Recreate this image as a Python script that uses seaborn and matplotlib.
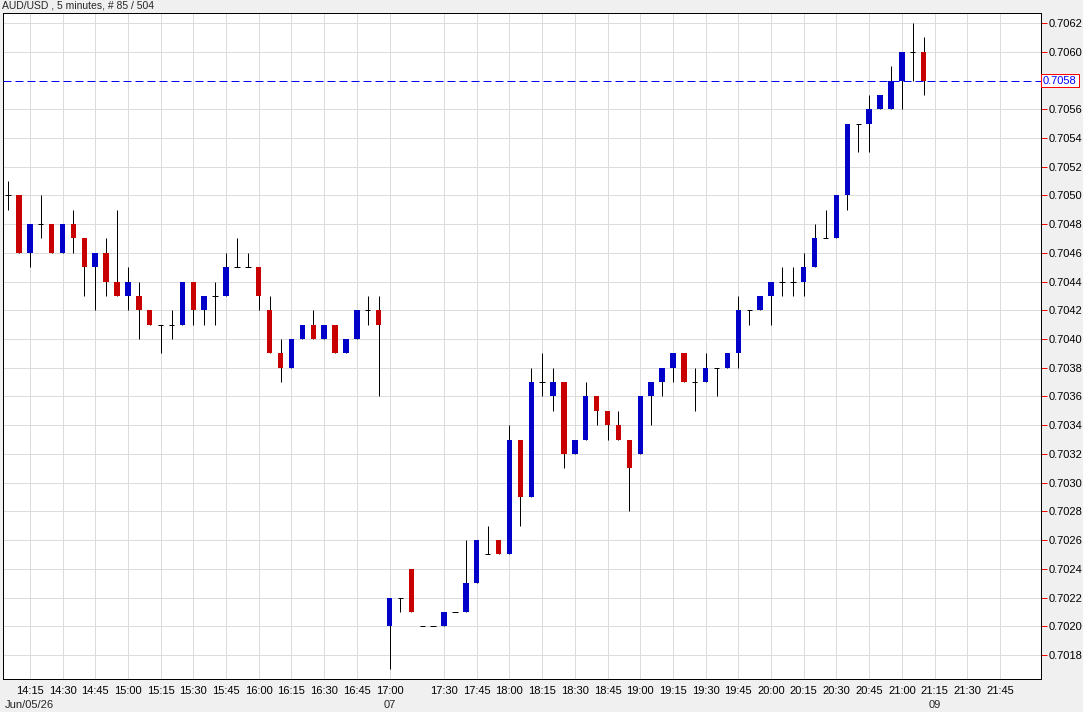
import matplotlib
matplotlib.use('Agg')
import matplotlib.pyplot as plt
import matplotlib.transforms as mtransforms
import seaborn as sns
import numpy as np

# AUD/USD 5 minute candles
opens = [0.7050, 0.7050, 0.7046, 0.7048, 0.7048, 0.7046, 0.7048, 0.7047, 0.7045, 0.7046,
         0.7044, 0.7043, 0.7043, 0.7042, 0.7041, 0.7041, 0.7041, 0.7044, 0.7042, 0.7043,
         0.7043, 0.7045, 0.7045, 0.7045, 0.7042, 0.7039, 0.7038, 0.7040, 0.7041, 0.7040,
         0.7041, 0.7039, 0.7040, 0.7042, 0.7042, 0.7020, 0.7022, 0.7024, 0.7020, 0.7020,
         0.7020, 0.7021, 0.7021, 0.7023, 0.7025, 0.7026, 0.7025, 0.7033, 0.7029, 0.7037,
         0.7036, 0.7037, 0.7032, 0.7033, 0.7036, 0.7035, 0.7034, 0.7033, 0.7032, 0.7036,
         0.7037, 0.7038, 0.7039, 0.7037, 0.7037, 0.7038, 0.7038, 0.7039, 0.7042, 0.7042,
         0.7043, 0.7044, 0.7044, 0.7044, 0.7045, 0.7047, 0.7047, 0.7050, 0.7055, 0.7055,
         0.7056, 0.7056, 0.7058, 0.7060, 0.7060]
highs = [0.7051, 0.7050, 0.7048, 0.7050, 0.7048, 0.7048, 0.7049, 0.7047, 0.7046, 0.7047,
         0.7049, 0.7045, 0.7044, 0.7042, 0.7041, 0.7042, 0.7044, 0.7044, 0.7043, 0.7044,
         0.7046, 0.7047, 0.7046, 0.7045, 0.7043, 0.7040, 0.7040, 0.7041, 0.7042, 0.7041,
         0.7041, 0.7040, 0.7042, 0.7043, 0.7043, 0.7022, 0.7022, 0.7024, 0.7020, 0.7020,
         0.7021, 0.7021, 0.7026, 0.7026, 0.7027, 0.7026, 0.7034, 0.7033, 0.7038, 0.7039,
         0.7038, 0.7037, 0.7033, 0.7037, 0.7036, 0.7035, 0.7035, 0.7033, 0.7036, 0.7037,
         0.7038, 0.7039, 0.7039, 0.7038, 0.7039, 0.7038, 0.7039, 0.7043, 0.7042, 0.7043,
         0.7044, 0.7045, 0.7045, 0.7046, 0.7048, 0.7049, 0.7050, 0.7055, 0.7055, 0.7057,
         0.7057, 0.7059, 0.7060, 0.7062, 0.7061]
lows = [0.7049, 0.7046, 0.7045, 0.7047, 0.7046, 0.7046, 0.7046, 0.7043, 0.7042, 0.7043,
        0.7043, 0.7042, 0.7040, 0.7041, 0.7039, 0.7040, 0.7041, 0.7041, 0.7041, 0.7041,
        0.7043, 0.7045, 0.7045, 0.7042, 0.7039, 0.7037, 0.7038, 0.7040, 0.7040, 0.7040,
        0.7039, 0.7039, 0.7040, 0.7041, 0.7036, 0.7017, 0.7021, 0.7021, 0.7020, 0.7020,
        0.7020, 0.7021, 0.7021, 0.7023, 0.7025, 0.7025, 0.7025, 0.7027, 0.7029, 0.7036,
        0.7035, 0.7031, 0.7032, 0.7033, 0.7034, 0.7033, 0.7033, 0.7028, 0.7032, 0.7034,
        0.7036, 0.7037, 0.7037, 0.7035, 0.7037, 0.7036, 0.7038, 0.7038, 0.7041, 0.7042,
        0.7041, 0.7043, 0.7043, 0.7043, 0.7045, 0.7047, 0.7047, 0.7049, 0.7053, 0.7053,
        0.7056, 0.7056, 0.7056, 0.7058, 0.7057]
closes = [0.7050, 0.7046, 0.7048, 0.7048, 0.7046, 0.7048, 0.7047, 0.7045, 0.7046, 0.7044,
          0.7043, 0.7044, 0.7042, 0.7041, 0.7041, 0.7041, 0.7044, 0.7042, 0.7043, 0.7043,
          0.7045, 0.7045, 0.7045, 0.7043, 0.7039, 0.7038, 0.7040, 0.7041, 0.7040, 0.7041,
          0.7039, 0.7040, 0.7042, 0.7042, 0.7041, 0.7022, 0.7022, 0.7021, 0.7020, 0.7020,
          0.7021, 0.7021, 0.7023, 0.7026, 0.7025, 0.7025, 0.7033, 0.7029, 0.7037, 0.7037,
          0.7037, 0.7032, 0.7033, 0.7036, 0.7035, 0.7034, 0.7033, 0.7031, 0.7036, 0.7037,
          0.7038, 0.7039, 0.7037, 0.7037, 0.7038, 0.7038, 0.7039, 0.7042, 0.7042, 0.7043,
          0.7044, 0.7044, 0.7044, 0.7045, 0.7047, 0.7047, 0.7050, 0.7055, 0.7055, 0.7056,
          0.7057, 0.7058, 0.7060, 0.7060, 0.7058]

# time axis labels (bar index -> label)
tick_bars = [2, 5, 8, 11, 14, 17, 20, 23, 26, 29, 32, 35, 40, 43, 46, 49, 52, 55, 58,
             61, 64, 67, 70, 73, 76, 79, 82, 85, 88, 91]
tick_labels = ['14:15', '14:30', '14:45', '15:00', '15:15', '15:30', '15:45', '16:00',
               '16:15', '16:30', '16:45', '17:00', '17:30', '17:45', '18:00', '18:15',
               '18:30', '18:45', '19:00', '19:15', '19:30', '19:45', '20:00', '20:15',
               '20:30', '20:45', '21:00', '21:15', '21:30', '21:45']
date_bars = [35, 85]
date_labels = ['07', '09']
first_date = 'Jun/05/26'
last_price = 0.7058
price_ticks = [0.7018 + 0.0002 * k for k in range(23)]

sns.set_style('white')
plt.rcParams['font.family'] = ['Liberation Sans', 'DejaVu Sans']

UP = '#0000c8'
DOWN = '#c80000'
px = 72 / 100

fig = plt.figure(figsize=(10.83, 7.12), dpi=100, facecolor='#f0f0f0')
ax = fig.add_axes([3 / 1083, 33 / 712, 1037.5 / 1083, 666 / 712])
ax.set_facecolor('white')

o = np.array(opens)
h = np.array(highs)
l = np.array(lows)
c = np.array(closes)
x = np.arange(len(o))
flat = np.isclose(o, c)
up = (c > o) & ~flat
down = (c < o) & ~flat
bw = 0.5

ax.vlines(x, l, h, color='black', lw=px, zorder=3)
ax.bar(x[up], (c - o)[up], bottom=o[up], width=bw, color=UP, lw=0, zorder=4)
ax.bar(x[down], (o - c)[down], bottom=c[down], width=bw, color=DOWN, lw=0, zorder=4)
ax.hlines(o[flat], x[flat] - bw / 2, x[flat] + bw / 2, color='black', lw=px, zorder=4)

# last price line
ax.axhline(last_price, color='#0000ff', lw=px, ls=(0, (8, 4)), zorder=5)

ax.set_xlim(-0.46, 94.72)
ax.set_ylim(0.701633, 0.706270)

ax.set_xticks(tick_bars)
ax.set_xticklabels(tick_labels)
yt = [p for p in price_ticks if not np.isclose(p, last_price)]
ax.set_yticks(yt)
ax.set_yticklabels(['%.4f' % p for p in yt])
ax.yaxis.tick_right()
ax.tick_params(axis='y', colors='red', labelcolor='black', length=4, width=px,
               labelsize=8, pad=1.5)
ax.tick_params(axis='x', colors='red', labelcolor='black', length=3, width=px,
               labelsize=8, pad=2)

ax.grid(True, color='#dcdcdc', lw=px)
ax.set_axisbelow(True)
for s in ax.spines.values():
    s.set_color('black')
    s.set_linewidth(px)
    s.set_visible(True)

# price box on the right axis
ax.text(1.0025, last_price, '%.4f' % last_price, transform=ax.get_yaxis_transform(),
        ha='left', va='center', fontsize=8, color='#0000ff',
        bbox=dict(boxstyle='square,pad=0.15', fc='white', ec='red', lw=px))

# date row under time labels
trans = mtransforms.blended_transform_factory(ax.transData, fig.transFigure)
for b, d in zip(date_bars, date_labels):
    ax.text(b, 7 / 712, d, transform=trans, ha='center', va='center', fontsize=8)
fig.text(5 / 1083, 7 / 712, first_date, ha='left', va='center', fontsize=8)

fig.text(2 / 1083, 1 - 5 / 712, 'AUD/USD , 5 minutes, # 85 / 504', ha='left',
         va='center', fontsize=7.5)

fig.savefig('out.png', dpi=100, facecolor=fig.get_facecolor())
